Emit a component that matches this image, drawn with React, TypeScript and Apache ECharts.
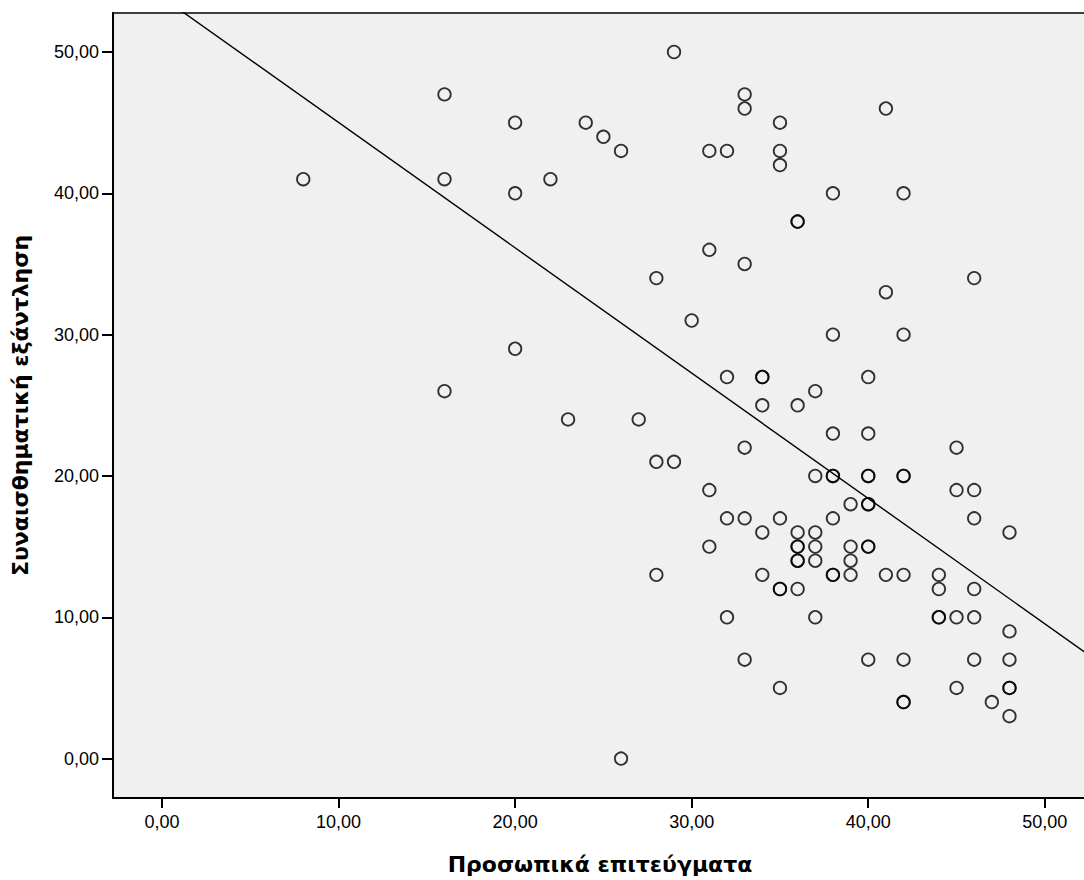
import React, { useEffect, useRef } from "react";
import * as echarts from "echarts";

const X_TITLE = "Προσωπικά επιτεύγματα";
const Y_TITLE = "Συναισθηματική εξάντληση";
const TICK_VALUES = [0, 10, 20, 30, 40, 50];
const X_MIN = -2.775;
const X_MAX = 52.39;
const Y_MIN = -2.79;
const Y_MAX = 52.76;

// Personal accomplishment (x) and emotional exhaustion (y), paired by index
const personal = [
  8, 16, 16, 16, 20, 20, 20, 22, 23, 24,
  25, 26, 26, 27, 28, 28, 28, 29, 29, 30,
  31, 31, 31, 31, 32, 32, 32, 32, 33, 33,
  33, 33, 33, 33, 34, 34, 34, 34, 34, 35,
  35, 35, 35, 35, 35, 35, 36, 36, 36, 36,
  36, 36, 36, 36, 36, 37, 37, 37, 37, 37,
  37, 38, 38, 38, 38, 38, 38, 38, 38, 39,
  39, 39, 39, 40, 40, 40, 40, 40, 40, 40,
  40, 40, 41, 41, 41, 42, 42, 42, 42, 42,
  42, 42, 42, 44, 44, 44, 44, 45, 45, 45,
  45, 46, 46, 46, 46, 46, 46, 47, 48, 48,
  48, 48, 48, 48,
];
const exhaustion = [
  41, 47, 41, 26, 45, 40, 29, 41, 24, 45,
  44, 43, 0, 24, 34, 21, 13, 50, 21, 31,
  43, 36, 19, 15, 43, 27, 17, 10, 47, 46,
  35, 22, 17, 7, 27, 27, 25, 16, 13, 45,
  43, 42, 17, 12, 12, 5, 38, 38, 25, 16,
  15, 15, 14, 14, 12, 26, 20, 16, 15, 14,
  10, 40, 30, 23, 20, 20, 17, 13, 13, 18,
  15, 14, 13, 27, 23, 20, 20, 18, 18, 15,
  15, 7, 46, 33, 13, 40, 30, 20, 20, 13,
  7, 4, 4, 13, 12, 10, 10, 22, 19, 10,
  5, 34, 19, 17, 12, 10, 7, 4, 16, 9,
  7, 5, 5, 3,
];

// Fit line (linear regression)
const FIT_INTERCEPT = 53.88;
const FIT_SLOPE = -0.8868;

const fmt = (v: number) => Number(v).toFixed(2).replace(".", ",");

export default function App() {
  const ref = useRef<HTMLDivElement>(null);
  useEffect(() => {
    if (!ref.current) return;
    const chart = echarts.init(ref.current, undefined, { renderer: "svg" });
    const points = personal.map((x, i) => [x, exhaustion[i]]);
    const fit = [
      [X_MIN, FIT_INTERCEPT + FIT_SLOPE * X_MIN],
      [X_MAX, FIT_INTERCEPT + FIT_SLOPE * X_MAX],
    ];
    const tickFont = { fontFamily: "Liberation Sans, Arial, sans-serif", fontSize: 18, color: "#000" };
    chart.setOption({
      animation: false,
      backgroundColor: "#fff",
      grid: {
        left: 113,
        top: 13,
        width: 974,
        height: 785,
        show: true,
        backgroundColor: "#f0f0f0",
        borderColor: "#000",
        borderWidth: 1.5,
      },
      xAxis: {
        type: "value",
        min: X_MIN,
        max: X_MAX,
        name: X_TITLE,
        nameLocation: "middle",
        nameGap: 55,
        nameTextStyle: {
          fontFamily: "DejaVu Sans, sans-serif",
          fontWeight: "bold",
          fontSize: 22,
          color: "#000",
        },
        axisLine: { show: true, onZero: false, lineStyle: { color: "#000", width: 2 } },
        axisTick: {
          show: true,
          customValues: TICK_VALUES,
          length: 10,
          lineStyle: { color: "#000", width: 2 },
        },
        axisLabel: { ...tickFont, customValues: TICK_VALUES, margin: 15, formatter: fmt },
        splitLine: { show: false },
      },
      yAxis: {
        type: "value",
        min: Y_MIN,
        max: Y_MAX,
        name: Y_TITLE,
        nameLocation: "middle",
        nameGap: 82,
        nameTextStyle: {
          fontFamily: "DejaVu Sans, sans-serif",
          fontWeight: "bold",
          fontSize: 22,
          color: "#000",
        },
        axisLine: { show: true, onZero: false, lineStyle: { color: "#000", width: 2 } },
        axisTick: {
          show: true,
          customValues: TICK_VALUES,
          length: 11,
          lineStyle: { color: "#000", width: 2 },
        },
        axisLabel: { ...tickFont, customValues: TICK_VALUES, margin: 14, formatter: fmt },
        splitLine: { show: false },
      },
      series: [
        {
          type: "line",
          data: fit,
          symbol: "none",
          clip: true,
          silent: true,
          lineStyle: { color: "#000", width: 1.4 },
          z: 2,
        },
        {
          type: "scatter",
          data: points,
          symbol: "circle",
          symbolSize: 12.5,
          itemStyle: { color: "rgba(0,0,0,0)", borderColor: "#000", borderWidth: 1.8 },
          z: 3,
        },
      ],
    });
    return () => chart.dispose();
  }, []);
  return (
    <div style={{ position: "absolute", left: 0, top: 0, width: 1084, height: 880, overflow: "hidden", background: "#fff" }}>
      <div ref={ref} style={{ width: 1100, height: 880 }} />
    </div>
  );
}
